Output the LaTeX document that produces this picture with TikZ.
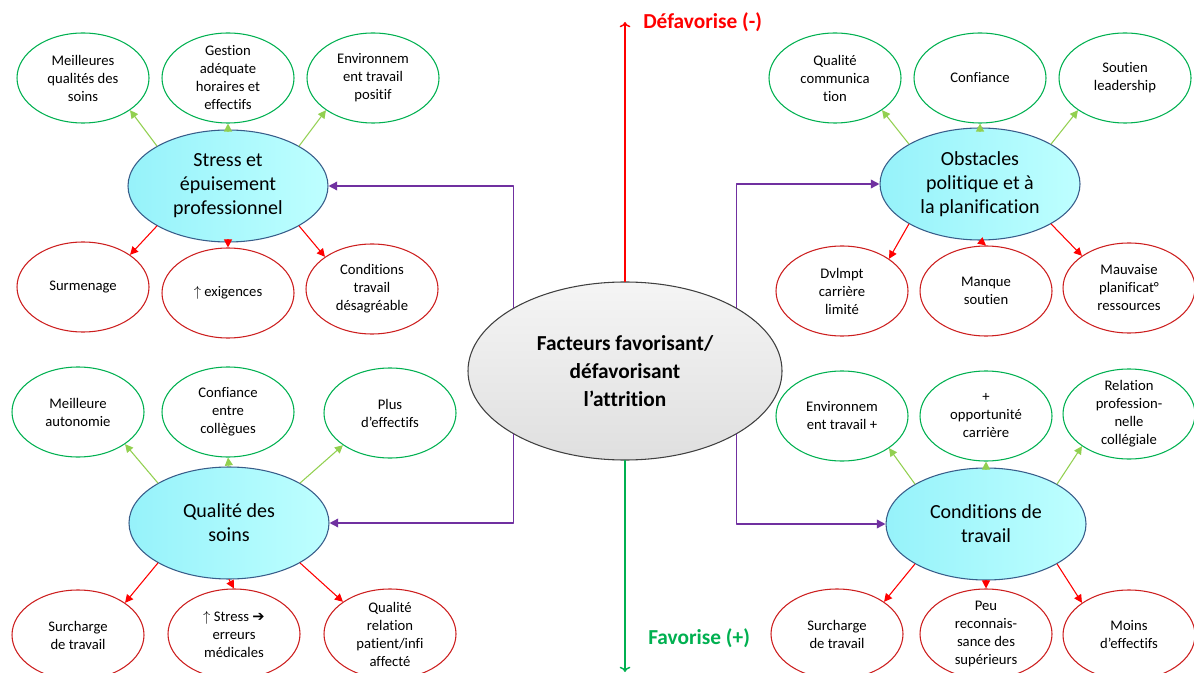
\documentclass[tikz,border=0pt]{standalone}
\usepackage{fontspec}
\setmainfont{Carlito}[Ligatures=NoCommon]
\newfontfamily\symbfont{DejaVu Sans}
\usetikzlibrary{shapes.geometric,arrows.meta}
\definecolor{vertbord}{RGB}{0,176,80}
\definecolor{rougebord}{RGB}{204,30,30}
\definecolor{vertfleche}{RGB}{146,208,80}
\definecolor{rougefleche}{RGB}{255,0,0}
\definecolor{violetlien}{RGB}{112,48,160}
\definecolor{bleubord}{RGB}{56,93,138}
\definecolor{cyanfonce}{RGB}{150,242,250}
\definecolor{cyanclair}{RGB}{190,255,255}
\definecolor{grisbord}{RGB}{64,64,64}
\begin{document}
\begin{tikzpicture}[x=0.75pt, y=-0.75pt, line join=round, line cap=round,
	sat/.style={ellipse, line width=0.8pt, minimum width=99pt, minimum height=67.5pt, inner sep=0pt},
	plus/.style={sat, draw=vertbord},
	moins/.style={sat, draw=rougebord},
	txt/.style={align=center, text=black, inner sep=0pt, font=\fontsize{11}{13.5}\selectfont},
	theme/.style={ellipse, draw=bleubord, line width=0.8pt, left color=cyanfonce, right color=cyanclair, minimum width=150pt, minimum height=84pt, inner sep=0pt, align=center, font=\fontsize{15}{18}\selectfont},
	centre/.style={ellipse, draw=grisbord, line width=0.8pt, top color=gray!8, bottom color=gray!25, minimum width=235.5pt, minimum height=133.5pt, inner sep=0pt, align=center, font=\fontsize{16}{21}\selectfont\bfseries},
	fleche plus/.style={-{Triangle[width=6pt,length=6pt]}, vertfleche, line width=0.8pt},
	fleche moins/.style={-{Triangle[width=6pt,length=6pt]}, rougefleche, line width=0.8pt},
	lien/.style={-{Triangle[width=6.5pt,length=6.5pt]}, violetlien, line width=1.1pt},
	axe/.style={-{To[length=4pt,width=8pt]}, line width=1.1pt}]
	\useasboundingbox (0,0) rectangle (1194,673);
	
	% facteurs au centre
	\node[centre] (fact) at (625,371) {Facteurs favorisant/\\défavorisant\\l’attrition};
	\coordinate (haut) at (625,22);
	\coordinate (bas) at (625,672);
	\draw[axe, rougefleche] (fact.north) -- (haut);
	\draw[axe, vertbord] (fact.south) -- (bas);
	\node[anchor=west, inner sep=0pt, rougefleche, font=\fontsize{16}{18}\selectfont\bfseries] (defav) at (643,22) {Défavorise (-)};
	\node[anchor=west, inner sep=0pt, vertbord, font=\fontsize{16}{18}\selectfont\bfseries] (fav) at (648,638) {Favorise (+)};
	
	% les quatre themes
	\node[theme] (stress) at (228,186) {Stress et\\épuisement\\professionnel};
	\node[theme] (obst) at (980,184) {Obstacles\\politique et à\\la planification};
	\node[theme] (soins) at (229,523) {Qualité des\\soins};
	\node[theme] (cond) at (986,524) {Conditions de\\travail};
	\draw[lien] (fact.north west) |- (stress.east);
	\draw[lien] (fact.south west) |- (soins.east);
	\draw[lien] (fact.north east) |- (obst.west);
	\draw[lien] (fact.south east) |- (cond.west);
	
	% stress
	\node[plus, label={[txt]center:Meilleures\\qualités des\\soins}] (stressA) at (83,78) {};
	\node[plus, label={[txt]center:Gestion\\adéquate\\horaires et\\effectifs}] (stressB) at (228,78) {};
	\node[plus, label={[txt]center:Environnem\\ent travail\\positif}] (stressC) at (373,78) {};
	\node[moins, label={[txt]center:Surmenage}] (stressD) at (83,287) {};
	\node[moins, label={[txt]center:$\uparrow$ exigences}] (stressE) at (228,293) {};
	\node[moins, label={[txt]center:Conditions\\travail\\désagréable}] (stressF) at (372,289) {};
	\draw[fleche plus] (stress.north west) -- (stressA.south east);
	\draw[fleche plus] (stress.north) -- (stressB.south);
	\draw[fleche plus] (stress.north east) -- (stressC.south west);
	\draw[fleche moins] (stress.south west) -- (stressD.north east);
	\draw[fleche moins] (stress.south) -- (stressE.north);
	\draw[fleche moins] (stress.south east) -- (stressF.north west);
	
	% obstacles
	\node[plus, label={[txt]center:Qualité\\communica\\tion}] (obstA) at (835,78) {};
	\node[plus, label={[txt]center:Confiance}] (obstB) at (980,78) {};
	\node[plus, label={[txt]center:Soutien\\leadership}] (obstC) at (1125,78) {};
	\node[moins, label={[txt]center:Dvlmpt\\carrière\\limité}] (obstD) at (842,291) {};
	\node[moins, label={[txt]center:Manque\\soutien}] (obstE) at (986,291) {};
	\node[moins, label={[txt]center:Mauvaise\\planificat°\\ressources}] (obstF) at (1129,288) {};
	\draw[fleche plus] (obst.north west) -- (obstA.south east);
	\draw[fleche plus] (obst.north) -- (obstB.south);
	\draw[fleche plus] (obst.north east) -- (obstC.south west);
	\draw[fleche moins] (obst.south west) -- (obstD.north east);
	\draw[fleche moins] (obst.south) -- (obstE.north);
	\draw[fleche moins] (obst.south east) -- (obstF.north west);
	
	% qualite des soins
	\node[plus, label={[txt]center:Meilleure\\autonomie}] (soinsA) at (78,412) {};
	\node[plus, label={[txt]center:Confiance\\entre\\collègues}] (soinsB) at (228,412) {};
	\node[plus, label={[txt]center:Plus\\d’effectifs}] (soinsC) at (390,413) {};
	\node[moins, label={[txt]center:Surcharge\\de travail}] (soinsD) at (78,635) {};
	\node[moins, label={[txt]center:$\uparrow$ Stress {\symbfont ➔}\\erreurs\\médicales}] (soinsE) at (234,634) {};
	\node[moins, label={[txt]center:Qualité\\relation\\patient/infi\\affecté}] (soinsF) at (390,634) {};
	\draw[fleche plus] (soins.north west) -- (soinsA.south east);
	\draw[fleche plus] (soins.north) -- (soinsB.south);
	\draw[fleche plus] (soins.north east) -- (soinsC.south west);
	\draw[fleche moins] (soins.south west) -- (soinsD.north east);
	\draw[fleche moins] (soins.south) -- (soinsE.north);
	\draw[fleche moins] (soins.south east) -- (soinsF.north west);
	
	% conditions de travail
	\node[plus, label={[txt]center:Environnem\\ent travail +}] (condA) at (842,416) {};
	\node[plus, label={[txt]center:+\\opportunité\\carrière}] (condB) at (986,416) {};
	\node[plus, label={[txt]center:Relation\\profession-\\nelle\\collégiale}] (condC) at (1129,414) {};
	\node[moins, label={[txt]center:Surcharge\\de travail}] (condD) at (837,634) {};
	\node[moins, label={[txt]center:Peu\\reconnais-\\sance des\\supérieurs}] (condE) at (986,634) {};
	\node[moins, label={[txt]center:Moins\\d’effectifs}] (condF) at (1129,635) {};
	\draw[fleche plus] (cond.north west) -- (condA.south east);
	\draw[fleche plus] (cond.north) -- (condB.south);
	\draw[fleche plus] (cond.north east) -- (condC.south west);
	\draw[fleche moins] (cond.south west) -- (condD.north east);
	\draw[fleche moins] (cond.south) -- (condE.north);
	\draw[fleche moins] (cond.south east) -- (condF.north west);
	
\end{tikzpicture}
\end{document}
